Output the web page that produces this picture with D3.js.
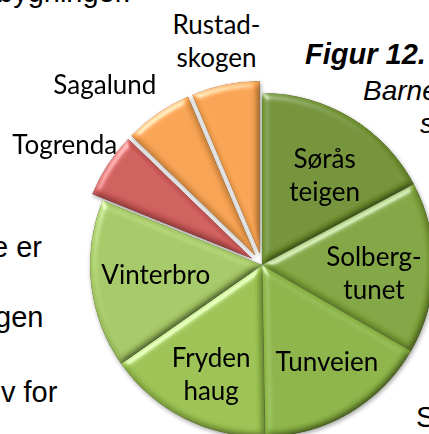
<!DOCTYPE html>
<html>
<head>
<meta charset="utf-8">
<script src="https://cdn.jsdelivr.net/npm/d3@7"></script>
<style>
  html, body { margin: 0; padding: 0; background: #fff; overflow: hidden; }
  .doc { font-family: "Liberation Sans", Arial, sans-serif; fill: #000; }
  .lbl { font-family: Lato, "Open Sans", sans-serif; fill: #000; }
</style>
</head>
<body>
<div id="chart"></div>
<script>
// slices, clockwise from 12 o'clock
var names = ["Sørås teigen", "Solberg-tunet", "Tunveien", "Fryden haug", "Vinterbro", "Togrenda", "Sagalund", "Rustad-skogen"];
var labelLines = [["Sørås", "teigen"], ["Solberg-", "tunet"], ["Tunveien"], ["Fryden", "haug"], ["Vinterbro"], ["Togrenda"], ["Sagalund"], ["Rustad-", "skogen"]];
var values = [62, 58, 59, 56, 57, 22, 23, 23];
var exploded = ["Togrenda", "Sagalund", "Rustad-skogen"];

var colors = ["#71922f", "#80a53b", "#8bb444", "#9bc24f", "#a5c864", "#cf5a59", "#f8a24e", "#f8a24e"];

var svgWidth = 429;
var svgHeight = 434;

var cx = 262, cy = 265;
var radius = 172;
var explode = 12;

var svg = d3.select("#chart")
    .append("svg")
    .attr("width", svgWidth)
    .attr("height", svgHeight);

// filters: bevel for each slice, soft shadow for the whole pie
var defs = svg.append("defs");

var bevel = defs.append("filter")
    .attr("id", "bevel")
    .attr("x", "-10%").attr("y", "-10%")
    .attr("width", "120%").attr("height", "120%");
bevel.append("feGaussianBlur")
    .attr("in", "SourceAlpha").attr("stdDeviation", 3.5).attr("result", "blur");
bevel.append("feDiffuseLighting")
    .attr("in", "blur").attr("surfaceScale", 4).attr("diffuseConstant", 1)
    .attr("lighting-color", "#fff").attr("result", "diff")
    .append("feDistantLight").attr("azimuth", 235).attr("elevation", 55);
bevel.append("feComposite")
    .attr("in", "SourceGraphic").attr("in2", "diff")
    .attr("operator", "arithmetic")
    .attr("k1", 1.2).attr("k2", 0).attr("k3", 0).attr("k4", 0)
    .attr("result", "shaded");
bevel.append("feSpecularLighting")
    .attr("in", "blur").attr("surfaceScale", 4).attr("specularConstant", 0.7)
    .attr("specularExponent", 25).attr("lighting-color", "#fff").attr("result", "spec")
    .append("feDistantLight").attr("azimuth", 235).attr("elevation", 35);
bevel.append("feComposite")
    .attr("in", "spec").attr("in2", "SourceAlpha").attr("operator", "in").attr("result", "specIn");
bevel.append("feComposite")
    .attr("in", "shaded").attr("in2", "specIn")
    .attr("operator", "arithmetic")
    .attr("k1", 0).attr("k2", 1).attr("k3", 0.6).attr("k4", 0)
    .attr("result", "lit");
bevel.append("feComposite")
    .attr("in", "lit").attr("in2", "SourceAlpha").attr("operator", "in");

var shadow = defs.append("filter")
    .attr("id", "shadow")
    .attr("x", "-10%").attr("y", "-10%")
    .attr("width", "120%").attr("height", "120%");
shadow.append("feDropShadow")
    .attr("dx", 1).attr("dy", 2).attr("stdDeviation", 2)
    .attr("flood-color", "#000").attr("flood-opacity", 0.35);

// surrounding document text (page the chart was cut from)
var docText = [
    { t: "bygninger.", x: -3, y: 2, size: 29, style: "normal", weight: "normal" },
    { t: "e er", x: -8, y: 257, size: 29, style: "normal", weight: "normal" },
    { t: "gen", x: -5, y: 327, size: 29, style: "normal", weight: "normal" },
    { t: "v for", x: 1, y: 402, size: 29, style: "normal", weight: "normal" },
    { t: "Figur 12.", x: 305, y: 64, size: 29, style: "italic", weight: "bold" },
    { t: "Barne", x: 363, y: 100, size: 28, style: "italic", weight: "normal" },
    { t: "s", x: 420, y: 133, size: 28, style: "italic", weight: "normal" },
    { t: "S", x: 416, y: 427, size: 29, style: "normal", weight: "normal" }
];

svg.append("g").selectAll("text")
    .data(docText)
    .enter()
    .append("text")
    .attr("class", "doc")
    .attr("x", d => d.x)
    .attr("y", d => d.y)
    .attr("font-size", d => d.size)
    .attr("font-style", d => d.style)
    .attr("font-weight", d => d.weight)
    .text(d => d.t);

// pie
var data = names.map(function (n, i) {
    return { name: n, lines: labelLines[i], value: values[i], color: colors[i] };
});

var pie = d3.pie()
    .sort(null)
    .value(d => d.value);

var arcs = pie(data);

var arc = d3.arc()
    .innerRadius(0)
    .outerRadius(radius);

var innerLabelArc = d3.arc().innerRadius(112).outerRadius(112);
var outerLabelArc = d3.arc().innerRadius(228).outerRadius(228);

function isOut(d) {
    return exploded.indexOf(d.data.name) >= 0;
}

function offset(d) {
    if (!isOut(d)) return [0, 0];
    var a = (d.startAngle + d.endAngle) / 2;
    return [explode * Math.sin(a), -explode * Math.cos(a)];
}

var chartGroup = svg.append("g")
    .attr("transform", `translate(${cx}, ${cy})`);

var sliceGroup = chartGroup.append("g")
    .attr("filter", "url(#shadow)");

sliceGroup.selectAll("path")
    .data(arcs)
    .enter()
    .append("path")
    .attr("d", arc)
    .attr("transform", d => `translate(${offset(d)[0]}, ${offset(d)[1]})`)
    .attr("fill", d => d.data.color)
    .attr("stroke", d => d3.color(d.data.color).darker(0.8))
    .attr("stroke-width", 0.6)
    .attr("filter", "url(#bevel)");

// labels: inside for the big slices, outside for the exploded ones
var labelNudge = {
    "Sagalund": [-28, 8],
    "Togrenda": [-6, 4],
    "Sørås teigen": [5, 0],
    "Tunveien": [8, 0],
    "Vinterbro": [5, -3],
    "Fryden haug": [0, 3]
};
var lineHeight = 33;

var labels = chartGroup.append("g").selectAll("text")
    .data(arcs)
    .enter()
    .append("text")
    .attr("class", "lbl")
    .attr("font-size", 26)
    .attr("text-anchor", "middle")
    .attr("transform", function (d) {
        var c = isOut(d) ? outerLabelArc.centroid(d) : innerLabelArc.centroid(d);
        var n = labelNudge[d.data.name] || [0, 0];
        // two-line labels inside the pie sit a little lower
        var drop = (!isOut(d) && d.data.lines.length > 1) ? 7 : 0;
        return `translate(${c[0] + n[0]}, ${c[1] + n[1] + drop})`;
    });

labels.selectAll("tspan")
    .data(d => d.data.lines.map((l, i, arr) => ({ text: l, i: i, n: arr.length })))
    .enter()
    .append("tspan")
    .attr("x", 0)
    .attr("y", d => (d.i - (d.n - 1) / 2) * lineHeight + 9)
    .text(d => d.text);
</script>
</body>
</html>
